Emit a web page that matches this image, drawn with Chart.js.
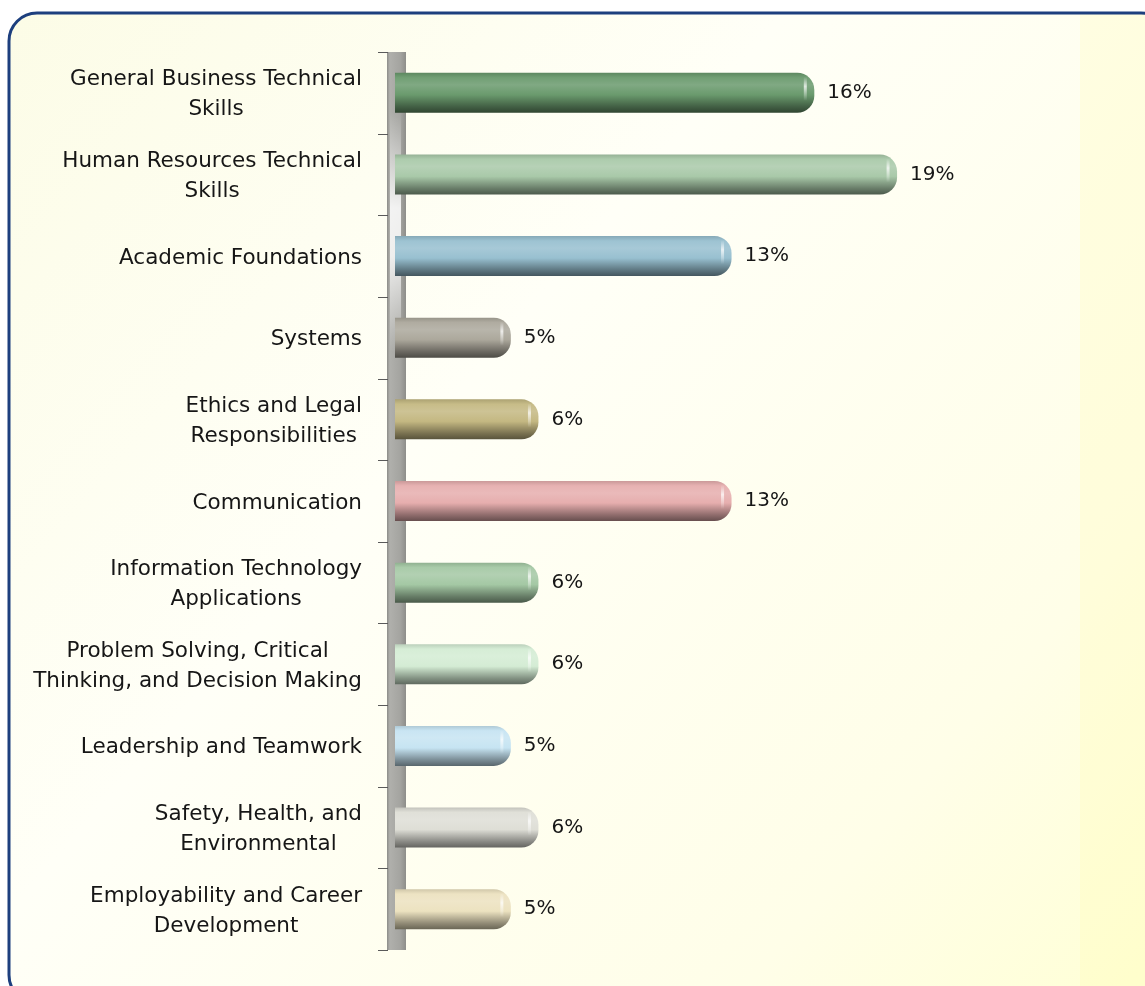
<!DOCTYPE html>
<html lang="en">
<head>
    <meta charset="UTF-8">
    <title>Skills Distribution</title>
    <script src="https://cdn.jsdelivr.net/npm/chart.js"></script>
    <style>
        body {
            margin: 0;
            background: #ffffff;
        }
        canvas {
            display: block;
        }
    </style>
</head>
<body>

<canvas id="skillsChart" width="1145" height="986"></canvas>

<script>
    // Chart data
    const categories = [
        ['General Business Technical', 'Skills'],
        ['Human Resources Technical', 'Skills'],
        ['Academic Foundations'],
        ['Systems'],
        ['Ethics and Legal', 'Responsibilities'],
        ['Communication'],
        ['Information Technology', 'Applications'],
        ['Problem Solving, Critical', 'Thinking, and Decision Making'],
        ['Leadership and Teamwork'],
        ['Safety, Health, and', 'Environmental'],
        ['Employability and Career', 'Development']
    ];
    const percentages = [16, 19, 13, 5, 6, 13, 6, 6, 5, 6, 5];
    const barColors = [
        '#6a9a6d', '#a9c9a9', '#98c0d0', '#aca89c', '#c4b882', '#e6aeae',
        '#a4c8a4', '#d4ecd4', '#c6e4f2', '#deded6', '#ece2c0'
    ];

    const X_MIN = 0.8;
    const X_MAX = 24;

    // mix a hex colour with white (t > 0) or black (t < 0)
    function shade(hex, t) {
        const n = parseInt(hex.slice(1), 16);
        let r = n >> 16, g = (n >> 8) & 255, b = n & 255;
        const target = t > 0 ? 255 : 0;
        const k = Math.abs(t);
        r = Math.round(r + (target - r) * k);
        g = Math.round(g + (target - g) * k);
        b = Math.round(b + (target - b) * k);
        return `rgb(${r},${g},${b})`;
    }

    function barGradient(context) {
        const chart = context.chart;
        const base = barColors[context.dataIndex];
        if (!chart.chartArea || context.type !== 'data') return base;
        const yScale = chart.scales.y;
        const y = yScale.getPixelForValue(context.dataIndex);
        const half = 20;
        const g = chart.ctx.createLinearGradient(0, y - half, 0, y + half);
        g.addColorStop(0, shade(base, -0.12));
        g.addColorStop(0.12, shade(base, 0.05));
        g.addColorStop(0.3, shade(base, 0.15));
        g.addColorStop(0.55, base);
        g.addColorStop(0.85, shade(base, -0.38));
        g.addColorStop(1, shade(base, -0.55));
        return g;
    }

    // background panel with rounded navy border
    const panelPlugin = {
        id: 'panel',
        beforeDraw(chart) {
            const ctx = chart.ctx;
            const x = 9, y = 13, w = 1160, h = 990, r = 28;
            ctx.save();
            ctx.beginPath();
            ctx.roundRect(x, y, w, h, r);
            const bg = ctx.createLinearGradient(0, 0, 1145, 986);
            bg.addColorStop(0, '#fcfce6');
            bg.addColorStop(0.4, '#fffff7');
            bg.addColorStop(0.8, '#fffee8');
            bg.addColorStop(1, '#ffffd6');
            ctx.fillStyle = bg;
            ctx.fill();
            ctx.clip();
            ctx.fillStyle = 'rgba(255, 250, 170, 0.22)';
            ctx.fillRect(1080, y, 100, h);
            ctx.restore();

            ctx.save();
            ctx.beginPath();
            ctx.roundRect(x, y, w, h, r);
            ctx.lineWidth = 3;
            ctx.strokeStyle = '#1d3f7e';
            ctx.stroke();
            ctx.restore();
        }
    };

    // 3D axis wall and tick marks
    const wallPlugin = {
        id: 'wall',
        beforeDatasetsDraw(chart) {
            const ctx = chart.ctx;
            const {top, bottom} = chart.chartArea;
            const left = 387, width = 19;
            ctx.save();
            const wg = ctx.createLinearGradient(left, 0, left + width, 0);
            wg.addColorStop(0, '#8c8c88');
            wg.addColorStop(0.15, '#b0b0ac');
            wg.addColorStop(0.7, '#a4a4a0');
            wg.addColorStop(1, '#8e8e8a');
            ctx.fillStyle = wg;
            ctx.fillRect(left, top, width, bottom - top);

            // soft reflection near the top
            const hg = ctx.createLinearGradient(0, top + 60, 0, top + 300);
            hg.addColorStop(0, 'rgba(255,255,255,0)');
            hg.addColorStop(0.4, 'rgba(255,255,255,0.85)');
            hg.addColorStop(0.6, 'rgba(255,255,255,0.8)');
            hg.addColorStop(1, 'rgba(255,255,255,0)');
            ctx.fillStyle = hg;
            ctx.fillRect(left + 3, top + 60, width - 8, 240);

            // tick marks at category boundaries
            const step = (bottom - top) / categories.length;
            ctx.strokeStyle = '#5a5a5a';
            ctx.lineWidth = 1;
            for (let i = 0; i <= categories.length; i++) {
                const ty = Math.round(top + i * step) + 0.5;
                ctx.beginPath();
                ctx.moveTo(378, ty);
                ctx.lineTo(left + 1, ty);
                ctx.stroke();
            }
            ctx.restore();
        },
        afterDatasetsDraw(chart) {
            // highlight streak on the rounded bar ends
            const ctx = chart.ctx;
            const meta = chart.getDatasetMeta(0);
            ctx.save();
            meta.data.forEach(bar => {
                const hx = bar.x - 9;
                const g = ctx.createLinearGradient(0, bar.y - 16, 0, bar.y + 8);
                g.addColorStop(0, 'rgba(255,255,255,0)');
                g.addColorStop(0.4, 'rgba(255,255,255,0.75)');
                g.addColorStop(1, 'rgba(255,255,255,0)');
                ctx.strokeStyle = g;
                ctx.lineWidth = 3;
                ctx.beginPath();
                ctx.moveTo(hx, bar.y - 16);
                ctx.lineTo(hx, bar.y + 8);
                ctx.stroke();
            });
            ctx.restore();
        }
    };

    // category names and value labels
    const labelPlugin = {
        id: 'labels',
        afterDraw(chart) {
            const ctx = chart.ctx;
            const yScale = chart.scales.y;
            const meta = chart.getDatasetMeta(0);
            ctx.save();
            ctx.fillStyle = '#161616';
            ctx.textBaseline = 'middle';

            ctx.font = '21.5px "DejaVu Sans"';
            const lineHeight = 30;
            const rightEdge = 362;
            categories.forEach((lines, i) => {
                const cy = yScale.getPixelForValue(i) + 2;
                const widest = Math.max(...lines.map(l => ctx.measureText(l).width));
                const cx = rightEdge - widest / 2;
                ctx.textAlign = 'center';
                lines.forEach((line, j) => {
                    const ly = cy + (j - (lines.length - 1) / 2) * lineHeight;
                    ctx.fillText(line, cx, ly);
                });
            });

            ctx.font = '20px "DejaVu Sans"';
            ctx.textAlign = 'left';
            meta.data.forEach((bar, i) => {
                ctx.fillText(percentages[i] + '%', bar.x + 13, bar.y);
            });
            ctx.restore();
        }
    };

    const ctx = document.getElementById('skillsChart').getContext('2d');
    new Chart(ctx, {
        type: 'bar',
        data: {
            labels: categories,
            datasets: [{
                data: percentages,
                backgroundColor: barGradient,
                borderWidth: 0,
                borderRadius: 17,
                borderSkipped: 'start',
                base: X_MIN,
                categoryPercentage: 1,
                barPercentage: 0.49
            }]
        },
        options: {
            indexAxis: 'y',
            responsive: false,
            animation: false,
            layout: {
                padding: { left: 395, top: 52, right: 110, bottom: 36 }
            },
            plugins: {
                legend: { display: false },
                tooltip: { enabled: false }
            },
            scales: {
                x: { display: false, min: X_MIN, max: X_MAX },
                y: { display: false }
            }
        },
        plugins: [panelPlugin, wallPlugin, labelPlugin]
    });
</script>

</body>
</html>
